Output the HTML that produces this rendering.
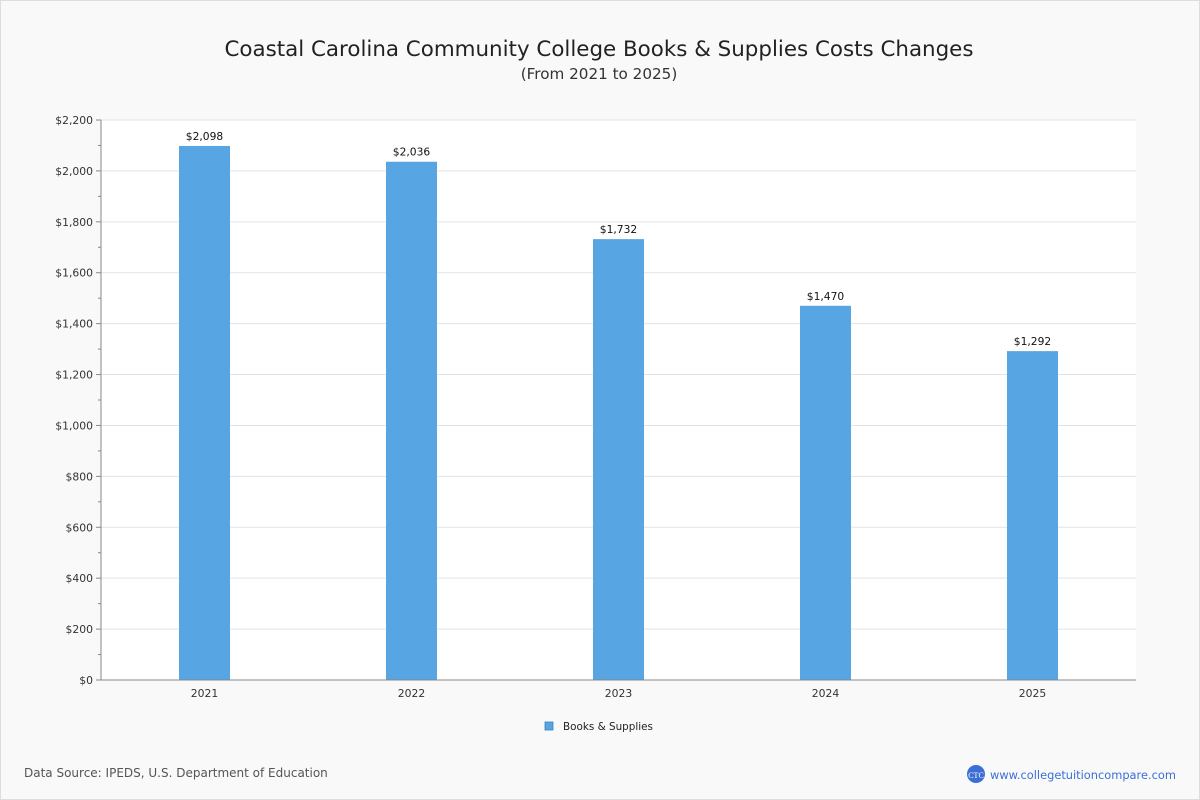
<!DOCTYPE html>
<html><head><meta charset="utf-8"><style>
body{margin:0;background:#fff}
#wrap{position:relative;width:1200px;height:800px;box-sizing:border-box;border:1px solid #ddd;background:#f9f9f9;font-family:"DejaVu Sans","Liberation Sans",sans-serif}
svg{position:absolute;left:0;top:-1px}
</style></head><body>
<div id="wrap">
<svg id="chart" width="1200" height="800">
<text x="598" y="56" text-anchor="middle" font-size="21.4" fill="#222">Coastal Carolina Community College Books &amp; Supplies Costs Changes</text>
<text x="598" y="79" text-anchor="middle" font-size="15.2" fill="#333">(From 2021 to 2025)</text>
<rect x="100" y="120" width="1035" height="560" fill="#fff"/>
<rect x="544" y="722" width="8" height="8" fill="#57a5e2" stroke="#3a7fc0" stroke-width="0.8"/>
<text x="562" y="730" font-size="10.4" fill="#222">Books &amp; Supplies</text>
<text x="23" y="777" font-size="12" fill="#555">Data Source: IPEDS, U.S. Department of Education</text>
<circle cx="975" cy="774" r="9" fill="#3b6fd6"/>
<text x="975" y="778" text-anchor="middle" font-size="8" fill="#fff" font-family="Liberation Serif,serif">CTC</text>
<text x="989" y="779" font-size="11.4" fill="#3b6fd6">www.collegetuitioncompare.com</text>
</svg>
</div>
<script>
const categories=["2021","2022","2023","2024","2025"];
const values=[2098,2036,1732,1470,1292];
const valueLabels=["$2,098","$2,036","$1,732","$1,470","$1,292"];
const yTicks=[0,200,400,600,800,1000,1200,1400,1600,1800,2000,2200];
const yTickLabels=["$0","$200","$400","$600","$800","$1,000","$1,200","$1,400","$1,600","$1,800","$2,000","$2,200"];
const svg=document.getElementById('chart');
const NS='http://www.w3.org/2000/svg';
const X0=100,X1=1135,Y0=680,Y1=120,YMAX=2200;
const y=v=>Y0-(v/YMAX)*(Y0-Y1);
const band=(X1-X0)/categories.length;
const xc=i=>X0+band*(i+0.5);
function mk(t,a){const e=document.createElementNS(NS,t);for(const k in a)e.setAttribute(k,a[k]);svg.appendChild(e);return e;}
yTicks.forEach((t,i)=>{
 if(t>0){const g=mk('line',{x1:X0,x2:X1,y1:y(t),y2:y(t),stroke:'#e3e3e3'});
 
 }
 const tk=mk('line',{x1:X0-5,x2:X0,y1:y(t),y2:y(t),stroke:'#888'});
 
 
 if(i<yTicks.length-1){const m=mk('line',{x1:X0-3,x2:X0,y1:y(t+100),y2:y(t+100),stroke:'#888'});
 
 }
 const l=mk('text',{x:X0-8,y:y(t)+4,'text-anchor':'end','font-size':10.8,fill:'#333'});
 l.textContent=yTickLabels[i];
 
 
});
categories.forEach((c,i)=>{
 const b=mk('rect',{x:xc(i)-25.5,y:y(values[i]),width:51,height:Y0-y(values[i]),fill:'#57a5e2'});
 
 
 const v=mk('text',{x:xc(i),y:y(values[i])-6,'text-anchor':'middle','font-size':10.7,fill:'#111'});
 v.textContent=valueLabels[i];
 
 
 const l=mk('text',{x:xc(i),y:Y0+17,'text-anchor':'middle','font-size':10.8,fill:'#333'});
 l.textContent=c;
 
 
});
const ya=mk('line',{x1:X0,x2:X0,y1:Y1,y2:Y0,stroke:'#888'});


const xa=mk('line',{x1:X0,x2:X1,y1:Y0,y2:Y0,stroke:'#888'});


</script>
</body></html>
